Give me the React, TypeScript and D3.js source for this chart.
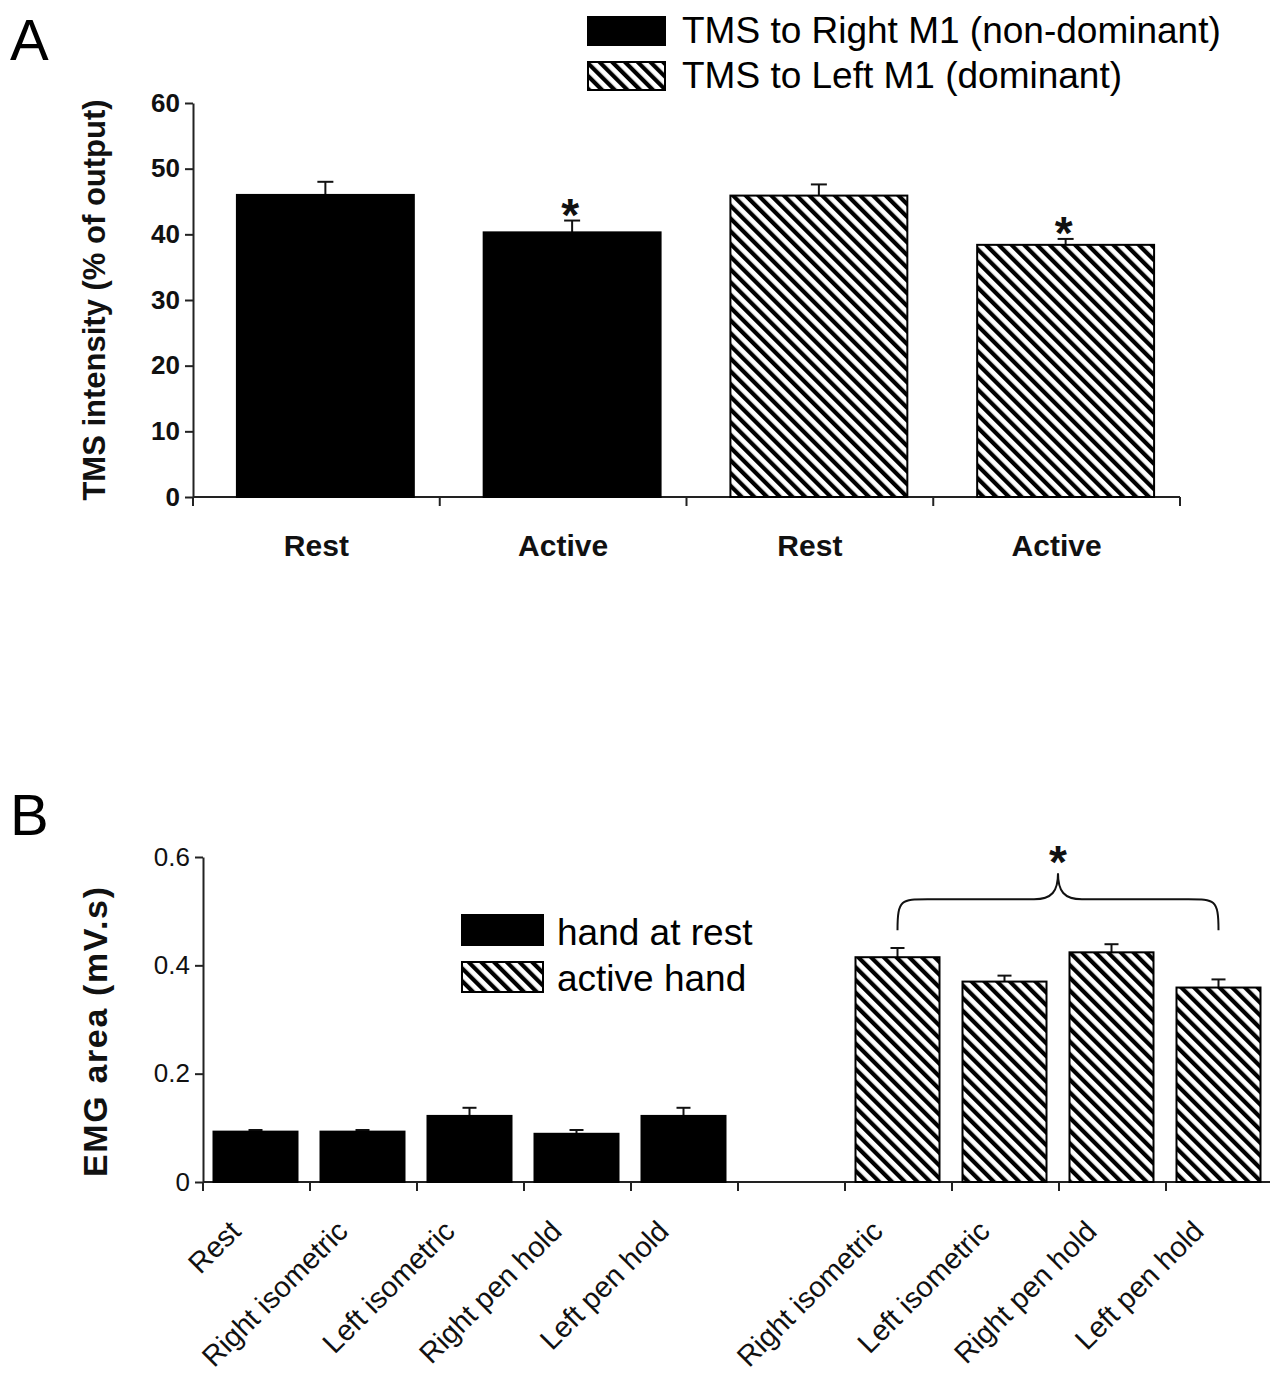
import React, { useEffect, useRef } from "react";
import * as d3 from "d3";

const W = 1270;
const H = 1380;
const FONT = "'Liberation Sans', Arial, sans-serif";

// panel A - TMS intensity
const tmsCategories = ["Rest", "Active", "Rest", "Active"];
const tmsValues = [46.0, 40.3, 45.9, 38.4];
const tmsErrors = [2.0, 1.8, 1.7, 0.9];
const tmsHemisphere = ["right", "right", "left", "left"];
const tmsSignificant = [false, true, false, true];
const tmsTicks = [0, 10, 20, 30, 40, 50, 60];
const tmsLegend = ["TMS to Right M1 (non-dominant)", "TMS to Left M1 (dominant)"];

// panel B - EMG area
const restHandLabels = ["Rest", "Right isometric", "Left isometric", "Right pen hold", "Left pen hold"];
const restHandValues = [0.093, 0.093, 0.122, 0.089, 0.122];
const restHandErrors = [0.003, 0.003, 0.015, 0.007, 0.015];
const activeHandLabels = ["Right isometric", "Left isometric", "Right pen hold", "Left pen hold"];
const activeHandValues = [0.415, 0.370, 0.424, 0.359];
const activeHandErrors = [0.017, 0.011, 0.015, 0.015];
const emgTicks = [0, 0.2, 0.4, 0.6];
const emgLegend = ["hand at rest", "active hand"];

export default function App() {
  const ref = useRef<SVGSVGElement>(null);

  useEffect(() => {
    const svg = d3.select(ref.current);
    svg.selectAll("*").remove();

    // hatch pattern (\\\\)
    const defs = svg.append("defs");
    const pat = defs.append("pattern").attr("id", "hatch")
      .attr("patternUnits", "userSpaceOnUse")
      .attr("width", 9).attr("height", 9)
      .attr("patternTransform", "rotate(-45)");
    pat.append("rect").attr("width", 9).attr("height", 9).attr("fill", "white");
    pat.append("rect").attr("x", 0).attr("width", 4.2).attr("height", 9).attr("fill", "black");

    const fillFor = (kind: string) => (kind === "right" || kind === "rest" ? "black" : "url(#hatch)");

    // star marker: bold asterisk centred on (x, y)
    const star = (g: any, x: number, y: number) =>
      g.append("text").attr("x", x).attr("y", y + 25).attr("text-anchor", "middle")
        .attr("font-size", 46).attr("font-weight", "bold").attr("font-family", FONT).attr("fill", "#111")
        .text("*");

    // ===== panel A =====
    const gA = svg.append("g");
    gA.append("text").attr("x", 10).attr("y", 60).attr("font-size", 58).attr("font-family", FONT).text("A");

    const yA = d3.scaleLinear().domain([0, 60]).range([497, 103]);
    const xA = d3.scaleBand<number>().domain(d3.range(tmsValues.length)).range([193, 1180]);
    const barWA = xA.bandwidth() * 0.717;
    const shiftA = 9;
    const cxA = (i: number) => (xA(i) as number) + xA.bandwidth() / 2 + shiftA;

    const axA = gA.append("g").attr("transform", "translate(193,0)")
      .call(d3.axisLeft(yA).tickValues(tmsTicks).tickSize(8).tickSizeOuter(0).tickPadding(5));
    axA.select(".domain").attr("stroke", "#222").attr("stroke-width", 2);
    axA.selectAll(".tick line").attr("stroke", "#222").attr("stroke-width", 2);
    axA.selectAll(".tick text").attr("font-size", 26).attr("font-weight", "bold")
      .attr("font-family", FONT).attr("fill", "#111");

    // x axis with ticks at group borders
    const bordersA = [...xA.domain().map(d => xA(d) as number), xA.range()[1]];
    gA.append("line").attr("x1", 193).attr("x2", xA.range()[1]).attr("y1", yA(0)).attr("y2", yA(0))
      .attr("stroke", "#222").attr("stroke-width", 2);
    gA.selectAll(".xtickA").data(bordersA).join("line")
      .attr("x1", d => d).attr("x2", d => d).attr("y1", yA(0)).attr("y2", yA(0) + 9)
      .attr("stroke", "#222").attr("stroke-width", 2);

    tmsValues.forEach((v, i) => {
      const top = yA(v + tmsErrors[i]);
      gA.append("line").attr("x1", cxA(i)).attr("x2", cxA(i)).attr("y1", yA(v)).attr("y2", top)
        .attr("stroke", "#111").attr("stroke-width", 2);
      gA.append("line").attr("x1", cxA(i) - 8).attr("x2", cxA(i) + 8).attr("y1", top).attr("y2", top)
        .attr("stroke", "#111").attr("stroke-width", 2);
      gA.append("rect").attr("x", cxA(i) - barWA / 2).attr("width", barWA)
        .attr("y", yA(v)).attr("height", yA(0) - yA(v))
        .attr("fill", fillFor(tmsHemisphere[i])).attr("stroke", "black").attr("stroke-width", 2);
      if (tmsSignificant[i]) star(gA, cxA(i) - 2, top - 15);
    });

    gA.selectAll(".catA").data(tmsCategories).join("text")
      .attr("x", (d, i) => (xA(i) as number) + xA.bandwidth() / 2)
      .attr("y", 556).attr("text-anchor", "middle")
      .attr("font-size", 30).attr("font-weight", "bold").attr("font-family", FONT).attr("fill", "#111")
      .text(d => d);

    gA.append("text").attr("transform", `translate(105,${(yA(0) + yA(60)) / 2}) rotate(-90)`)
      .attr("text-anchor", "middle").attr("font-size", 31).attr("font-weight", "bold")
      .attr("font-family", FONT).attr("fill", "#111")
      .text("TMS intensity (% of output)");

    // legend A
    const legA = gA.append("g");
    tmsLegend.forEach((label, i) => {
      legA.append("rect").attr("x", 588).attr("y", 17 + i * 45).attr("width", 77).attr("height", 28)
        .attr("fill", i === 0 ? "black" : "url(#hatch)").attr("stroke", "black").attr("stroke-width", 2);
      legA.append("text").attr("x", 682).attr("y", 43 + i * 45)
        .attr("font-size", 37).attr("font-family", FONT).text(label);
    });

    // ===== panel B =====
    const gB = svg.append("g");
    gB.append("text").attr("x", 10).attr("y", 835).attr("font-size", 58).attr("font-family", FONT).text("B");

    const yB = d3.scaleLinear().domain([0, 0.6]).range([1182, 857]);
    const nSlots = restHandValues.length + 1 + activeHandValues.length;
    const xB = d3.scaleBand<number>().domain(d3.range(nSlots)).range([203, 1273]);
    const barWB = 84;

    const slotsB = [
      ...restHandValues.map((v, i) => ({ slot: i, value: v, err: restHandErrors[i], label: restHandLabels[i], kind: "rest" })),
      ...activeHandValues.map((v, i) => ({ slot: restHandValues.length + 1 + i, value: v, err: activeHandErrors[i], label: activeHandLabels[i], kind: "active" })),
    ];
    const cx = (s: number) => (xB(s) as number) + xB.bandwidth() / 2 - 1;

    const axB = gB.append("g").attr("transform", "translate(203,0)")
      .call(d3.axisLeft(yB).tickValues(emgTicks).tickFormat(d3.format("~g")).tickSize(8).tickSizeOuter(0).tickPadding(5));
    axB.select(".domain").attr("stroke", "#222").attr("stroke-width", 2);
    axB.selectAll(".tick line").attr("stroke", "#222").attr("stroke-width", 2);
    axB.selectAll(".tick text").attr("font-size", 26).attr("font-family", FONT).attr("fill", "#111");

    const bordersB = xB.domain().map(d => xB(d) as number);
    gB.append("line").attr("x1", 203).attr("x2", W).attr("y1", yB(0)).attr("y2", yB(0))
      .attr("stroke", "#222").attr("stroke-width", 2);
    gB.selectAll(".xtickB").data(bordersB).join("line")
      .attr("x1", d => d).attr("x2", d => d).attr("y1", yB(0)).attr("y2", yB(0) + 9)
      .attr("stroke", "#222").attr("stroke-width", 2);

    const barsB = gB.selectAll(".barB").data(slotsB).join("g");
    barsB.append("line")
      .attr("x1", d => cx(d.slot)).attr("x2", d => cx(d.slot))
      .attr("y1", d => yB(d.value)).attr("y2", d => yB(d.value + d.err))
      .attr("stroke", "#111").attr("stroke-width", 2);
    barsB.append("line")
      .attr("x1", d => cx(d.slot) - 7).attr("x2", d => cx(d.slot) + 7)
      .attr("y1", d => yB(d.value + d.err)).attr("y2", d => yB(d.value + d.err))
      .attr("stroke", "#111").attr("stroke-width", 2);
    barsB.append("rect")
      .attr("x", d => cx(d.slot) - barWB / 2).attr("width", barWB)
      .attr("y", d => yB(d.value)).attr("height", d => yB(0) - yB(d.value))
      .attr("fill", d => fillFor(d.kind)).attr("stroke", "black").attr("stroke-width", 2);

    gB.selectAll(".catB").data(slotsB).join("text")
      .attr("transform", d => `translate(${cx(d.slot) - 13},${yB(0) + 51}) rotate(-45)`)
      .attr("text-anchor", "end").attr("font-size", 29).attr("font-family", FONT).attr("fill", "#111")
      .text(d => d.label);

    gB.append("text").attr("transform", `translate(107,1032) rotate(-90)`)
      .attr("text-anchor", "middle").attr("font-size", 34).attr("font-weight", "bold")
      .attr("font-family", FONT).attr("fill", "#111")
      .attr("textLength", 290).attr("lengthAdjust", "spacing")
      .text("EMG area (mV.s)");

    // significance brace over the active-hand bars
    const activeSlots = slotsB.filter(d => d.kind === "active");
    const bx0 = cx(activeSlots[0].slot);
    const bx1 = cx(activeSlots[activeSlots.length - 1].slot);
    const bm = (bx0 + bx1) / 2;
    const yEnd = yB(0.465), yMid = yB(0.522), yPeak = yB(0.57);
    const brace = d3.path();
    brace.moveTo(bx0, yEnd);
    brace.bezierCurveTo(bx0, yMid, bx0 + 4, yMid, bx0 + 30, yMid);
    brace.lineTo(bm - 24, yMid);
    brace.bezierCurveTo(bm - 6, yMid, bm, yMid - 8, bm, yPeak);
    brace.bezierCurveTo(bm, yMid - 8, bm + 6, yMid, bm + 24, yMid);
    brace.lineTo(bx1 - 30, yMid);
    brace.bezierCurveTo(bx1 - 4, yMid, bx1, yMid, bx1, yEnd);
    gB.append("path").attr("d", brace.toString()).attr("fill", "none")
      .attr("stroke", "#111").attr("stroke-width", 2);
    star(gB, bm, yPeak - 20);

    // legend B
    const legB = gB.append("g");
    emgLegend.forEach((label, i) => {
      legB.append("rect").attr("x", 462).attr("y", 915 + i * 47).attr("width", 81).attr("height", 30)
        .attr("fill", i === 0 ? "black" : "url(#hatch)").attr("stroke", "black").attr("stroke-width", 2);
      legB.append("text").attr("x", 557).attr("y", 945 + i * 46)
        .attr("font-size", 37).attr("font-family", FONT).text(label);
    });
  }, []);

  return (
    <svg ref={ref} width={W} height={H}
      style={{ position: "absolute", left: 0, top: 0, background: "white" }} />
  );
}
